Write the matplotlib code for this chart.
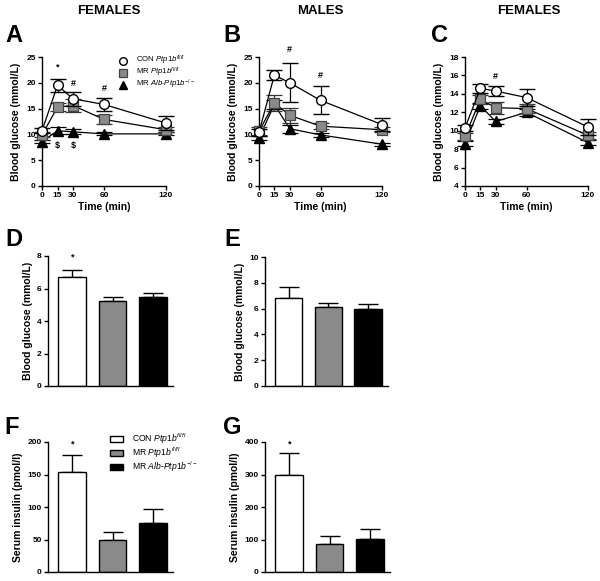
import matplotlib
matplotlib.use("Agg")
import matplotlib.pyplot as plt
from matplotlib.lines import Line2D
from matplotlib.patches import Rectangle

plt.rcParams['font.family'] = ['Liberation Sans', 'DejaVu Sans']
plt.rcParams['mathtext.fontset'] = 'custom'
plt.rcParams['mathtext.rm'] = 'Liberation Sans'
plt.rcParams['mathtext.it'] = 'Liberation Sans:italic'
plt.rcParams['mathtext.bf'] = 'Liberation Sans:bold'

# ---------------- data ----------------
time = [0, 15, 30, 60, 120]
time_ticks = [0, 15, 30, 60, 120]

# Panel A (females)
a_con = [10.7, 19.5, 16.9, 15.8, 12.2]
a_con_err = [0.5, 1.2, 1.3, 1.2, 1.3]
a_mr = [9.9, 15.3, 15.6, 12.9, 10.9]
a_mr_err = [0.5, 0.8, 1.2, 0.8, 0.5]
a_alb = [8.6, 10.7, 10.5, 10.1, 10.1]
a_alb_err = [0.3, 0.7, 0.5, 0.3, 0.3]

# Panel B (males)
b_con = [10.4, 21.5, 20.0, 16.6, 11.9]
b_con_err = [0.7, 1.0, 3.8, 2.7, 1.2]
b_mr = [10.6, 16.1, 13.7, 11.6, 10.9]
b_mr_err = [0.8, 1.5, 1.5, 0.6, 0.5]
b_alb = [9.3, 15.8, 11.1, 9.9, 8.1]
b_alb_err = [0.4, 0.8, 0.8, 0.4, 0.3]

# Panel C (females)
c_con = [10.3, 14.6, 14.3, 13.6, 10.4]
c_con_err = [0.3, 0.5, 0.5, 0.9, 0.9]
c_mr = [9.4, 13.4, 12.5, 12.4, 9.5]
c_mr_err = [0.4, 0.5, 0.65, 0.5, 0.4]
c_alb = [8.6, 12.7, 11.0, 12.0, 8.7]
c_alb_err = [0.3, 0.3, 0.3, 0.4, 0.3]

groups = ["CON", "MR", "MR Alb"]
d_vals = [6.7, 5.23, 5.48]
d_err = [0.42, 0.25, 0.25]
e_vals = [6.8, 6.1, 5.97]
e_err = [0.9, 0.36, 0.4]
f_vals = [154, 50, 76]
f_err = [26, 11, 21]
g_vals = [298, 85, 102]
g_err = [69, 26, 30]

labels = [r"CON $\mathit{Ptp1b}^{\mathit{fl/fl}}$",
          r"MR $\mathit{Ptp1b}^{\mathit{fl/fl}}$",
          r"MR $\mathit{Alb}$-$\mathit{Ptp1b}^{-/-}$"]

GRAY = '#8a8a8a'
W, H = 600, 581
fig = plt.figure(figsize=(6.0, 5.81), dpi=100)


def fx(x):
    return x / W


def fy(y):
    return 1 - y / H


def px_axes(x0, y_top, x1, y_bot):
    return fig.add_axes([x0 / W, 1 - y_bot / H, (x1 - x0) / W, (y_bot - y_top) / H])


def style(ax):
    for s in ['top', 'right']:
        ax.spines[s].set_visible(False)
    for s in ['left', 'bottom']:
        ax.spines[s].set_linewidth(1.0)
    ax.tick_params(axis='both', direction='out', length=3, width=1.0, pad=1.5,
                   labelsize=6)
    for lab in ax.get_yticklabels() + ax.get_xticklabels():
        lab.set_fontweight('bold')


def line_panel(ax, con, con_e, mr, mr_e, alb, alb_e, ylim, yticks):
    kw = dict(capsize=6, elinewidth=0.9, capthick=0.9, lw=0.9, clip_on=False)
    ax.errorbar(time, alb, yerr=alb_e, color='black', marker='^', ms=6.5,
                mfc='black', mec='black', zorder=3, **kw)
    ax.errorbar(time, mr, yerr=mr_e, color='black', ecolor='#333333', marker='s', ms=6.5,
                mfc=GRAY, mec='#444444', mew=0.9, zorder=4, **kw)
    ax.errorbar(time, con, yerr=con_e, color='black', marker='o', ms=7,
                mfc='white', mec='black', mew=1.0, zorder=5, **kw)
    ax.set_xlim(0, 120)
    ax.set_ylim(*ylim)
    ax.set_xticks(time_ticks)
    ax.set_yticks(yticks)
    ax.set_xlabel('Time (min)', fontsize=7.5, fontweight='bold', labelpad=2)
    ax.set_ylabel('Blood glucose (mmol/L)', fontsize=7.5, fontweight='bold', labelpad=4)
    style(ax)


def bar_panel(ax, vals, errs, ylim, yticks, ylabel):
    colors = ['white', GRAY, 'black']
    x = list(range(len(vals)))
    ax.bar(x, vals, width=0.69, color=colors, edgecolor='black', linewidth=1.0, zorder=2)
    ax.errorbar(x, vals, yerr=[[0] * len(errs), errs], fmt='none', ecolor='black',
                elinewidth=1.0, capsize=7, capthick=1.0, zorder=1)
    ax.set_xlim(-0.6, 2.5)
    ax.set_ylim(*ylim)
    ax.set_yticks(yticks)
    ax.set_xticks([])
    ax.set_ylabel(ylabel, fontsize=7.5, fontweight='bold', labelpad=3)
    style(ax)


# ---------------- line panels ----------------
axA = px_axes(42, 57, 166, 186)
line_panel(axA, a_con, a_con_err, a_mr, a_mr_err, a_alb, a_alb_err, (0, 25), [0, 5, 10, 15, 20, 25])
axB = px_axes(259, 57, 382, 186)
line_panel(axB, b_con, b_con_err, b_mr, b_mr_err, b_alb, b_alb_err, (0, 25), [0, 5, 10, 15, 20, 25])
axC = px_axes(465, 57, 588, 186)
line_panel(axC, c_con, c_con_err, c_mr, c_mr_err, c_alb, c_alb_err, (4, 18), [4, 6, 8, 10, 12, 14, 16, 18])

ann = dict(ha='center', va='center', fontsize=6.5, fontweight='bold', clip_on=False)
axA.text(15, 23.0, '*', **ann)
axA.text(30, 19.9, '#', **ann)
axA.text(60, 18.9, '#', **ann)
axA.text(15, 7.8, '$', **ann)
axA.text(30, 7.8, '$', **ann)
axB.text(30, 26.4, '#', **ann)
axB.text(60, 21.5, '#', **ann)
axC.text(30, 15.9, '#', **ann)

# legend for line panels (manual)
leg_rows = [60.5, 72.5, 84.5]
marker_styles = [dict(marker='o', ms=5.5, mfc='white', mec='black', mew=1.0),
                 dict(marker='s', ms=5.5, mfc=GRAY, mec='#444444', mew=0.9),
                 dict(marker='^', ms=5.5, mfc='black', mec='black')]
for y, lab, ms in zip(leg_rows, labels, marker_styles):
    fig.add_artist(Line2D([fx(122.5)], [fy(y)], color='none', transform=fig.transFigure, **ms))
    fig.text(fx(136), fy(y), lab, ha='left', va='center', fontsize=5.6)

# ---------------- bar panels ----------------
axD = px_axes(48, 256, 173, 386)
bar_panel(axD, d_vals, d_err, (0, 8), [0, 2, 4, 6, 8], 'Blood glucose (mmol/L)')
axD.text(0, 7.95, '*', **ann)
axE = px_axes(265, 257, 388, 386)
bar_panel(axE, e_vals, e_err, (0, 10), [0, 2, 4, 6, 8, 10], 'Blood glucose (mmol/L)')
axF = px_axes(48, 442, 173, 572)
bar_panel(axF, f_vals, f_err, (0, 200), [0, 50, 100, 150, 200], 'Serum insulin (pmol/l)')
axF.text(0, 197, '*', **ann)
axG = px_axes(265, 442, 390, 572)
bar_panel(axG, g_vals, g_err, (0, 400), [0, 100, 200, 300, 400], 'Serum insulin (pmol/l)')
axG.text(0, 394, '*', **ann)

bar_rows = [439, 453, 467]
for y, lab, c in zip(bar_rows, labels, ['white', GRAY, 'black']):
    fig.add_artist(Rectangle((fx(110), fy(y + 2.8)), 13.5 / W, 5.6 / H, facecolor=c,
                             edgecolor='black', linewidth=1.0, transform=fig.transFigure))
    fig.text(fx(132), fy(y), lab, ha='left', va='center', fontsize=6.2)

# ---------------- titles & panel letters ----------------
for x, t in [(109, 'FEMALES'), (320, 'MALES'), (529, 'FEMALES')]:
    fig.text(x / W, 1 - 11 / H, t, ha='center', va='center', fontsize=9.5, fontweight='bold')
for x, y, t in [(14, 35, 'A'), (232, 35, 'B'), (439, 35, 'C'),
                (14, 240, 'D'), (232, 240, 'E'), (12, 428, 'F'), (232, 428, 'G')]:
    fig.text(x / W, 1 - y / H, t, ha='center', va='center', fontsize=17, fontweight='bold')

fig.savefig('out.png', dpi=100)
